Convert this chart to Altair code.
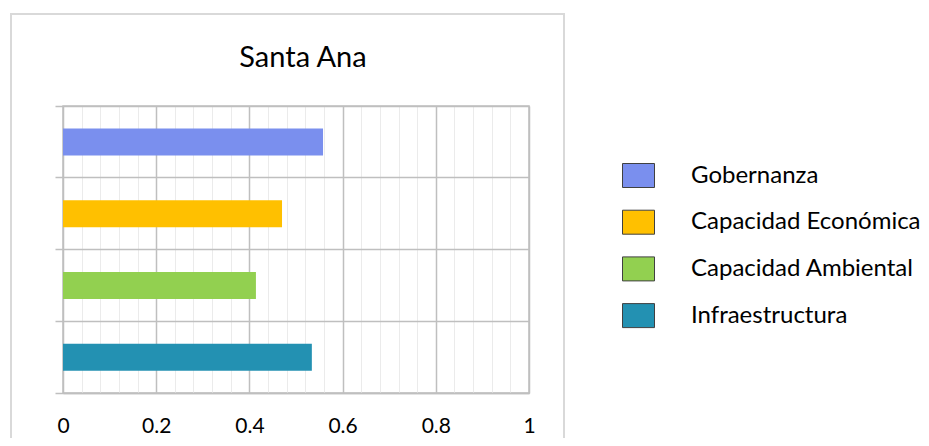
import altair as alt
import pandas as pd

categories = ["Gobernanza", "Capacidad Económica", "Capacidad Ambiental", "Infraestructura"]
values = [0.558, 0.470, 0.414, 0.534]
colors = ["#7A8FEE", "#FFC000", "#92D050", "#2391B2"]
x_tick_values = [0, 0.04, 0.08, 0.12, 0.16, 0.2, 0.24, 0.28, 0.32, 0.36, 0.4,
                 0.44, 0.48, 0.52, 0.56, 0.6, 0.64, 0.68, 0.72, 0.76, 0.8,
                 0.84, 0.88, 0.92, 0.96, 1]

df = pd.DataFrame({"categoria": categories, "valor": values})

is_major = "abs(datum.value*5 - round(datum.value*5)) < 0.001"

border = alt.Chart(pd.DataFrame({"k": [0]})).mark_rect(
    fill=None, stroke="#d9d9d9", strokeWidth=2
).encode(
    x=alt.value(-52), x2=alt.value(501), y=alt.value(-92), y2=alt.value(400)
)

bars = alt.Chart(df).mark_bar(size=27).encode(
    x=alt.X("valor:Q",
            scale=alt.Scale(domain=[0, 1], nice=False),
            axis=alt.Axis(values=x_tick_values, title=None, ticks=False, format="~g",
                          labelExpr=f"{is_major} ? datum.label : ''",
                          labelOverlap=False, labelFlush=False, labelFontSize=21,
                          labelColor="#000000", labelPadding=22,
                          domainColor="#bfbfbf", domainWidth=1.5,
                          gridColor=alt.condition(is_major, alt.value("#bfbfbf"), alt.value("#ebebeb")),
                          gridWidth=alt.condition(is_major, alt.value(1.5), alt.value(1)))),
    y=alt.Y("categoria:N", sort=categories,
            scale=alt.Scale(paddingInner=0, paddingOuter=0),
            axis=alt.Axis(title=None, labels=False, ticks=True, tickSize=8,
                          tickColor="#bfbfbf", tickWidth=1.5, bandPosition=1,
                          tickExtra=True, grid=True, gridColor="#bfbfbf",
                          gridWidth=1.5, domain=False)),
    color=alt.Color("categoria:N",
                    scale=alt.Scale(domain=categories, range=colors),
                    legend=alt.Legend(title=None, orient="none", legendX=559, legendY=53,
                                      symbolType="M-1,-0.75H1V0.75H-1Z", symbolSize=1024,
                                      symbolStrokeColor="#404040", symbolStrokeWidth=1,
                                      symbolOpacity=1, labelFontSize=24, labelColor="#000000",
                                      labelOffset=36, rowPadding=15.7, padding=0,
                                      labelLimit=400)),
)

chart = alt.layer(border, bars).properties(
    width=466, height=287,
    title=alt.TitleParams("Santa Ana", fontSize=29, font="Lato", fontWeight="normal",
                          color="#000000", offset=0, dy=83, dx=7, baseline="alphabetic",
                          frame="group", anchor="middle"),
    autosize=alt.AutoSizeParams(type="none"),
    padding={"left": 55, "top": 98, "right": 392, "bottom": 45},
).configure(font="Lato").configure_view(stroke="#bfbfbf", strokeWidth=1.5)

chart.save("out.html", embed_options={"renderer": "svg", "actions": False})
